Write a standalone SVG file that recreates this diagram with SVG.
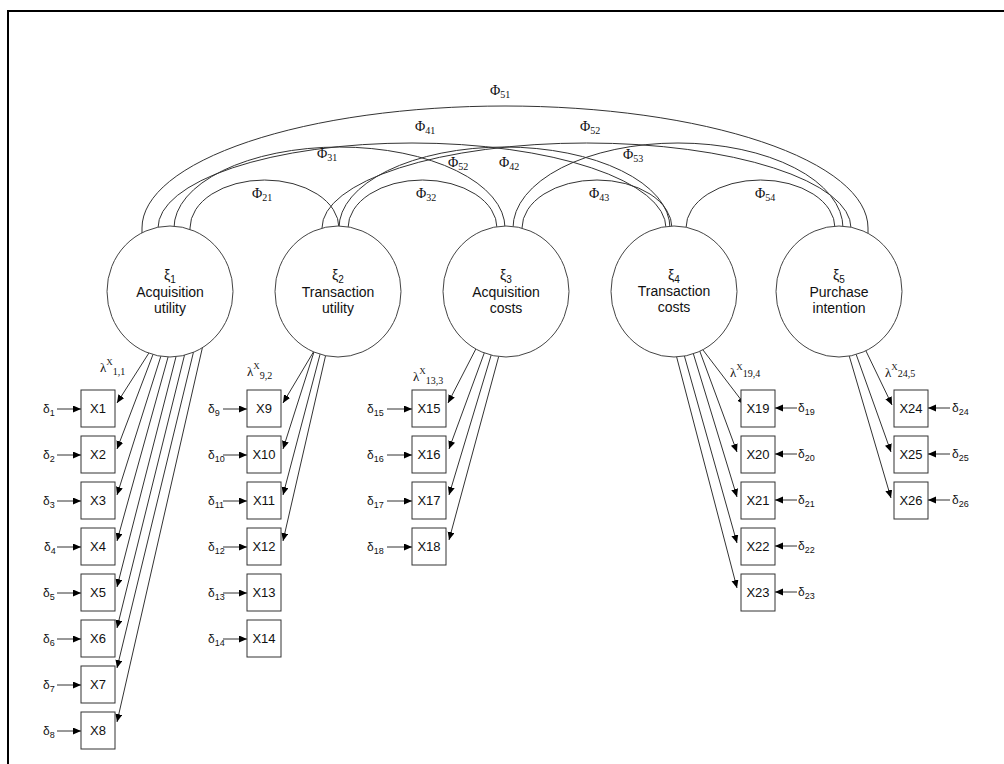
<svg xmlns="http://www.w3.org/2000/svg" width="1004" height="764" viewBox="0 0 1004 764">
<defs>
<marker id="ah" markerUnits="userSpaceOnUse" markerWidth="9" markerHeight="8" refX="8" refY="3.5" orient="auto">
<path d="M0,0 L8,3.5 L0,7 z" fill="#000"/>
</marker>
<style>
.arc{fill:none;stroke:#333;stroke-width:1}
.ln{fill:none;stroke:#333;stroke-width:1;marker-end:url(#ah)}
.lv{fill:#fff;stroke:#444;stroke-width:1}
.box{fill:#fff;stroke:#333;stroke-width:1}
.t{font-family:"Liberation Sans",Arial,sans-serif;font-size:14px;fill:#111;text-anchor:middle}
.bx{font-family:"Liberation Sans",Arial,sans-serif;font-size:13px;fill:#111;text-anchor:middle}
.d{font-family:"Liberation Sans",Arial,sans-serif;font-size:12px;fill:#111}
.phi{font-family:"Liberation Serif","Times New Roman",serif;font-size:14px;fill:#111}
.lam{font-family:"Liberation Serif","Times New Roman",serif;font-size:13px;fill:#111}
</style>
</defs>
<rect x="0" y="0" width="1004" height="764" fill="#fff"/>
<rect x="8" y="11" width="1100" height="900" fill="none" stroke="#000" stroke-width="2"/>

<g id="connectors">
<!-- covariance arcs -->
<path class="arc" d="M142,262 L142,228 A363,122 0 0 1 868,228 L868,262"/>
<path class="arc" d="M158,262 L158,228 A254,85 0 0 1 666,228 L666,262"/>
<path class="arc" d="M174,262 L174,228 A165.5,81 0 0 1 505,228 L505,262"/>
<path class="arc" d="M190,262 L190,228 A74.5,48 0 0 1 339,228 L339,262"/>
<path class="arc" d="M322,262 L322,228 A264.5,85 0 0 1 851,228 L851,262"/>
<path class="arc" d="M339,262 L339,228 A165.5,81 0 0 1 670,228 L670,262"/>
<path class="arc" d="M348,262 L348,228 A74.5,48 0 0 1 497,228 L497,262"/>
<path class="arc" d="M513,262 L513,228 A165,85 0 0 1 843,228 L843,262"/>
<path class="arc" d="M522,262 L522,228 A75,48 0 0 1 672,228 L672,262"/>
<path class="arc" d="M686,262 L686,228 A74.5,48 0 0 1 835,228 L835,262"/>
<!-- loadings xi1 -->
<line class="ln" x1="154" y1="345" x2="117" y2="403"/>
<line class="ln" x1="156.6" y1="345" x2="117" y2="449"/>
<line class="ln" x1="164.4" y1="345" x2="117" y2="495"/>
<line class="ln" x1="171.4" y1="345" x2="117" y2="541"/>
<line class="ln" x1="179" y1="345" x2="117" y2="587"/>
<line class="ln" x1="187" y1="345" x2="117" y2="628"/>
<line class="ln" x1="195.2" y1="345" x2="117" y2="668"/>
<line class="ln" x1="203" y1="345" x2="117" y2="722"/>
<!-- loadings xi2 -->
<line class="ln" x1="317.6" y1="345" x2="283" y2="403"/>
<line class="ln" x1="316.2" y1="345" x2="283" y2="449"/>
<line class="ln" x1="322.5" y1="345" x2="283" y2="495"/>
<line class="ln" x1="328" y1="345" x2="283" y2="541"/>
<!-- loadings xi3 -->
<line class="ln" x1="477.9" y1="345" x2="448" y2="403"/>
<line class="ln" x1="487.2" y1="345" x2="449" y2="449"/>
<line class="ln" x1="494.2" y1="345" x2="449" y2="495"/>
<line class="ln" x1="501.8" y1="345" x2="449" y2="540"/>
<!-- loadings xi4 -->
<line class="ln" x1="699.2" y1="345" x2="745" y2="405"/>
<line class="ln" x1="697.5" y1="345" x2="737" y2="452"/>
<line class="ln" x1="690.7" y1="345" x2="737" y2="497"/>
<line class="ln" x1="681.3" y1="345" x2="737" y2="543"/>
<line class="ln" x1="673.5" y1="345" x2="737" y2="588"/>
<!-- loadings xi5 -->
<line class="ln" x1="863.1" y1="345" x2="892" y2="405"/>
<line class="ln" x1="852.8" y1="345" x2="891" y2="452"/>
<line class="ln" x1="846" y1="345" x2="891" y2="498"/>
<!-- error arrows -->
<line class="ln" x1="57" y1="409" x2="81" y2="409"/>
<line class="ln" x1="57" y1="455" x2="81" y2="455"/>
<line class="ln" x1="57" y1="501" x2="81" y2="501"/>
<line class="ln" x1="57" y1="547" x2="81" y2="547"/>
<line class="ln" x1="57" y1="593" x2="81" y2="593"/>
<line class="ln" x1="57" y1="639" x2="81" y2="639"/>
<line class="ln" x1="57" y1="685" x2="81" y2="685"/>
<line class="ln" x1="57" y1="731" x2="81" y2="731"/>
<line class="ln" x1="223" y1="409" x2="247" y2="409"/>
<line class="ln" x1="223" y1="455" x2="247" y2="455"/>
<line class="ln" x1="223" y1="501" x2="247" y2="501"/>
<line class="ln" x1="223" y1="547" x2="247" y2="547"/>
<line class="ln" x1="223" y1="593" x2="247" y2="593"/>
<line class="ln" x1="223" y1="639" x2="247" y2="639"/>
<line class="ln" x1="387" y1="409" x2="412" y2="409"/>
<line class="ln" x1="387" y1="455" x2="412" y2="455"/>
<line class="ln" x1="387" y1="501" x2="412" y2="501"/>
<line class="ln" x1="387" y1="547" x2="412" y2="547"/>
<line class="ln" x1="797" y1="408" x2="775" y2="408"/>
<line class="ln" x1="797" y1="454" x2="775" y2="454"/>
<line class="ln" x1="797" y1="500" x2="775" y2="500"/>
<line class="ln" x1="797" y1="546" x2="775" y2="546"/>
<line class="ln" x1="797" y1="592" x2="775" y2="592"/>
<line class="ln" x1="950" y1="408" x2="928" y2="408"/>
<line class="ln" x1="950" y1="454" x2="928" y2="454"/>
<line class="ln" x1="950" y1="500" x2="928" y2="500"/>
</g>

<g id="phi-labels">
<text class="phi" x="490" y="95">Φ<tspan font-size="10" dy="3">51</tspan></text>
<text class="phi" x="415" y="131">Φ<tspan font-size="10" dy="3">41</tspan></text>
<text class="phi" x="580" y="131">Φ<tspan font-size="10" dy="3">52</tspan></text>
<text class="phi" x="317" y="158">Φ<tspan font-size="10" dy="3">31</tspan></text>
<text class="phi" x="448" y="167">Φ<tspan font-size="10" dy="3">52</tspan></text>
<text class="phi" x="499" y="167">Φ<tspan font-size="10" dy="3">42</tspan></text>
<text class="phi" x="623" y="159">Φ<tspan font-size="10" dy="3">53</tspan></text>
<text class="phi" x="252" y="198">Φ<tspan font-size="10" dy="3">21</tspan></text>
<text class="phi" x="416" y="198">Φ<tspan font-size="10" dy="3">32</tspan></text>
<text class="phi" x="589" y="198">Φ<tspan font-size="10" dy="3">43</tspan></text>
<text class="phi" x="755" y="198">Φ<tspan font-size="10" dy="3">54</tspan></text>
</g>

<g id="xi1"><ellipse class="lv" cx="170" cy="291.5" rx="63" ry="65.5"/>
<text class="t" x="170" y="280" font-size="13">ξ<tspan font-size="10" dy="3">1</tspan></text>
<text class="t" x="170" y="297">Acquisition</text><text class="t" x="170" y="313">utility</text></g>
<g id="xi2"><ellipse class="lv" cx="338" cy="291.5" rx="63" ry="65.5"/>
<text class="t" x="338" y="280" font-size="13">ξ<tspan font-size="10" dy="3">2</tspan></text>
<text class="t" x="338" y="297">Transaction</text><text class="t" x="338" y="313">utility</text></g>
<g id="xi3"><ellipse class="lv" cx="506" cy="291.5" rx="63" ry="65.5"/>
<text class="t" x="506" y="280" font-size="13">ξ<tspan font-size="10" dy="3">3</tspan></text>
<text class="t" x="506" y="297">Acquisition</text><text class="t" x="506" y="313">costs</text></g>
<g id="xi4"><ellipse class="lv" cx="674" cy="291.5" rx="63" ry="65.5"/>
<text class="t" x="674" y="280" font-size="13">ξ<tspan font-size="10" dy="3">4</tspan></text>
<text class="t" x="674" y="296">Transaction</text><text class="t" x="674" y="312">costs</text></g>
<g id="xi5"><ellipse class="lv" cx="839" cy="291.5" rx="63" ry="65.5"/>
<text class="t" x="839" y="280" font-size="13">ξ<tspan font-size="10" dy="3">5</tspan></text>
<text class="t" x="839" y="297">Purchase</text><text class="t" x="839" y="313">intention</text></g>

<g id="lambda-labels">
<text class="lam" x="100" y="372">λ<tspan font-size="9" dy="-7">X</tspan><tspan font-size="10" dy="10">1,1</tspan></text>
<text class="lam" x="247" y="376">λ<tspan font-size="9" dy="-7">X</tspan><tspan font-size="10" dy="10">9,2</tspan></text>
<text class="lam" x="413" y="381">λ<tspan font-size="9" dy="-7">X</tspan><tspan font-size="10" dy="10">13,3</tspan></text>
<text class="lam" x="730" y="377">λ<tspan font-size="9" dy="-7">X</tspan><tspan font-size="10" dy="7">19,4</tspan></text>
<text class="lam" x="885" y="377">λ<tspan font-size="9" dy="-7">X</tspan><tspan font-size="10" dy="7">24,5</tspan></text>
</g>

<g id="x1"><rect class="box" x="81" y="390" width="34" height="37"/><text class="bx" x="98" y="413">X1</text><text class="d" x="43" y="413">δ<tspan font-size="9" dy="3">1</tspan></text></g>
<g id="x2"><rect class="box" x="81" y="436" width="34" height="37"/><text class="bx" x="98" y="459">X2</text><text class="d" x="43" y="459">δ<tspan font-size="9" dy="3">2</tspan></text></g>
<g id="x3"><rect class="box" x="81" y="482" width="34" height="37"/><text class="bx" x="98" y="505">X3</text><text class="d" x="43" y="505">δ<tspan font-size="9" dy="3">3</tspan></text></g>
<g id="x4"><rect class="box" x="81" y="528" width="34" height="37"/><text class="bx" x="98" y="551">X4</text><text class="d" x="44" y="551">δ<tspan font-size="9" dy="3">4</tspan></text></g>
<g id="x5"><rect class="box" x="81" y="574" width="34" height="37"/><text class="bx" x="98" y="597">X5</text><text class="d" x="43" y="597">δ<tspan font-size="9" dy="3">5</tspan></text></g>
<g id="x6"><rect class="box" x="81" y="620" width="34" height="37"/><text class="bx" x="98" y="643">X6</text><text class="d" x="43" y="643">δ<tspan font-size="9" dy="3">6</tspan></text></g>
<g id="x7"><rect class="box" x="81" y="666" width="34" height="37"/><text class="bx" x="98" y="689">X7</text><text class="d" x="43" y="689">δ<tspan font-size="9" dy="3">7</tspan></text></g>
<g id="x8"><rect class="box" x="81" y="712" width="34" height="37"/><text class="bx" x="98" y="735">X8</text><text class="d" x="43" y="735">δ<tspan font-size="9" dy="3">8</tspan></text></g>

<g id="x9"><rect class="box" x="247" y="390" width="34" height="37"/><text class="bx" x="264" y="413">X9</text><text class="d" x="208" y="413">δ<tspan font-size="9" dy="3">9</tspan></text></g>
<g id="x10"><rect class="box" x="247" y="436" width="34" height="37"/><text class="bx" x="264" y="459">X10</text><text class="d" x="208" y="459">δ<tspan font-size="9" dy="3">10</tspan></text></g>
<g id="x11"><rect class="box" x="247" y="482" width="34" height="37"/><text class="bx" x="264" y="505">X11</text><text class="d" x="208" y="505">δ<tspan font-size="9" dy="3">11</tspan></text></g>
<g id="x12"><rect class="box" x="247" y="528" width="34" height="37"/><text class="bx" x="264" y="551">X12</text><text class="d" x="208" y="551">δ<tspan font-size="9" dy="3">12</tspan></text></g>
<g id="x13"><rect class="box" x="247" y="574" width="34" height="37"/><text class="bx" x="264" y="597">X13</text><text class="d" x="208" y="597">δ<tspan font-size="9" dy="3">13</tspan></text></g>
<g id="x14"><rect class="box" x="247" y="620" width="34" height="37"/><text class="bx" x="264" y="643">X14</text><text class="d" x="208" y="643">δ<tspan font-size="9" dy="3">14</tspan></text></g>

<g id="x15"><rect class="box" x="412" y="390" width="34" height="37"/><text class="bx" x="429" y="413">X15</text><text class="d" x="367" y="413">δ<tspan font-size="9" dy="3">15</tspan></text></g>
<g id="x16"><rect class="box" x="412" y="436" width="34" height="37"/><text class="bx" x="429" y="459">X16</text><text class="d" x="367" y="459">δ<tspan font-size="9" dy="3">16</tspan></text></g>
<g id="x17"><rect class="box" x="412" y="482" width="34" height="37"/><text class="bx" x="429" y="505">X17</text><text class="d" x="367" y="505">δ<tspan font-size="9" dy="3">17</tspan></text></g>
<g id="x18"><rect class="box" x="412" y="528" width="34" height="37"/><text class="bx" x="429" y="551">X18</text><text class="d" x="367" y="551">δ<tspan font-size="9" dy="3">18</tspan></text></g>

<g id="x19"><rect class="box" x="741" y="390" width="34" height="37"/><text class="bx" x="758" y="413">X19</text><text class="d" x="798" y="412">δ<tspan font-size="9" dy="3">19</tspan></text></g>
<g id="x20"><rect class="box" x="741" y="436" width="34" height="37"/><text class="bx" x="758" y="459">X20</text><text class="d" x="798" y="458">δ<tspan font-size="9" dy="3">20</tspan></text></g>
<g id="x21"><rect class="box" x="741" y="482" width="34" height="37"/><text class="bx" x="758" y="505">X21</text><text class="d" x="798" y="504">δ<tspan font-size="9" dy="3">21</tspan></text></g>
<g id="x22"><rect class="box" x="741" y="528" width="34" height="37"/><text class="bx" x="758" y="551">X22</text><text class="d" x="798" y="550">δ<tspan font-size="9" dy="3">22</tspan></text></g>
<g id="x23"><rect class="box" x="741" y="574" width="34" height="37"/><text class="bx" x="758" y="597">X23</text><text class="d" x="798" y="596">δ<tspan font-size="9" dy="3">23</tspan></text></g>

<g id="x24"><rect class="box" x="894" y="390" width="34" height="37"/><text class="bx" x="911" y="413">X24</text><text class="d" x="952" y="412">δ<tspan font-size="9" dy="3">24</tspan></text></g>
<g id="x25"><rect class="box" x="894" y="436" width="34" height="37"/><text class="bx" x="911" y="459">X25</text><text class="d" x="952" y="458">δ<tspan font-size="9" dy="3">25</tspan></text></g>
<g id="x26"><rect class="box" x="894" y="482" width="34" height="37"/><text class="bx" x="911" y="505">X26</text><text class="d" x="952" y="504">δ<tspan font-size="9" dy="3">26</tspan></text></g>
</svg>
